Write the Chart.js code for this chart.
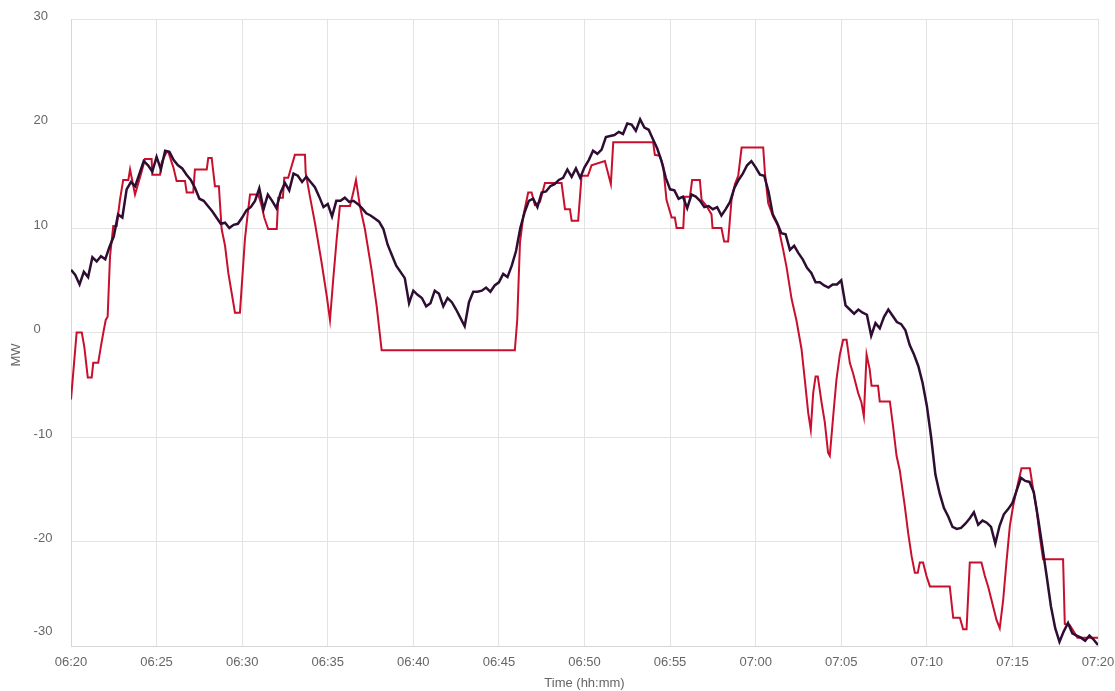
<!DOCTYPE html>
<html>
<head>
<meta charset="utf-8">
<script src="https://cdn.jsdelivr.net/npm/chart.js@4.4.1/dist/chart.umd.min.js"></script>
<style>
  html, body { margin: 0; padding: 0; background: #fff; }
  #wrap { width: 1115px; height: 691px; }
</style>
</head>
<body>
<div id="wrap"><canvas id="chart" width="1115" height="691"></canvas></div>
<script>
// minutes after 06:20
const START_HOUR = 6;
const START_MIN = 20;
const yTicks = [-30, -20, -10, 0, 10, 20, 30];

// red line (setpoint-like, read at its corners)
const redMinutes = [
  0, 0.33, 0.63, 0.78, 0.98, 1.21, 1.30, 1.59, 1.75, 1.89,
  2.03, 2.14, 2.28, 2.47, 2.67, 2.86, 3.05, 3.35, 3.45, 3.74,
  4.13, 4.32, 4.71, 4.75, 5.2, 5.30, 5.59, 5.68, 5.98, 6.17,
  6.66, 6.76, 7.14, 7.24, 7.93, 8.02, 8.22, 8.41, 8.64, 8.80,
  9.0, 9.19, 9.58, 9.87, 10.16, 10.32, 10.46, 10.94, 11.14, 11.29,
  11.52, 12.02, 12.11, 12.38, 12.46, 12.69, 13.08, 13.67, 13.71, 13.96,
  14.25, 14.64, 14.94, 15.13, 15.32, 15.52, 15.71, 16.30, 16.49, 16.65,
  16.88, 17.17, 17.56, 17.86, 18.15, 25.93, 26.07, 26.23, 26.42, 26.71,
  26.91, 27.1, 27.4, 27.69, 28.66, 28.86, 29.15, 29.25, 29.63, 29.83,
  30.2, 30.41, 31.19, 31.54, 31.68, 34.01, 34.11, 34.4, 34.6, 34.79,
  35.09, 35.28, 35.38, 35.77, 35.86, 36.16, 36.29, 36.74, 36.84, 37.13,
  37.42, 37.48, 38.0, 38.16, 38.39, 38.59, 38.79, 38.98, 39.18, 40.44,
  40.54, 40.73, 41.02, 41.31, 41.61, 41.8, 42.1, 42.39, 42.68, 42.87,
  43.07, 43.22, 43.36, 43.5, 43.63, 43.85, 44.04, 44.23, 44.33, 44.53,
  44.72, 44.92, 45.11, 45.31, 45.5, 45.69, 45.99, 46.18, 46.32, 46.48,
  46.66, 46.77, 47.15, 47.25, 47.84, 48.03, 48.23, 48.42, 48.71, 48.91,
  49.11, 49.3, 49.47, 49.59, 49.78, 49.98, 50.18, 51.34, 51.54, 51.93,
  52.12, 52.32, 52.51, 53.19, 53.39, 53.58, 53.87, 54.07, 54.26, 54.46,
  54.65, 54.85, 55.04, 55.33, 55.53, 56.02, 56.21, 56.41, 56.6, 56.79,
  57.96, 58.06, 58.35, 58.8, 60
];
const redMW = [
  -6.4, 0, 0, -1.4, -4.3, -4.3, -2.9, -2.9, -1.3, 0,
  1.2, 1.5, 7.3, 10.2, 10.2, 12.7, 14.6, 14.6, 15.6, 13.2,
  15.4, 16.6, 16.6, 15.1, 15.1, 16.3, 17.3, 17.3, 15.8, 14.5,
  14.5, 13.4, 13.4, 15.6, 15.6, 16.7, 16.7, 14.0, 14.0, 9.9,
  8.3, 5.7, 1.9, 1.9, 8.9, 11.3, 13.2, 13.2, 12.1, 11.0,
  9.9, 9.9, 12.9, 12.9, 14.8, 14.8, 17.0, 17.0, 15.3, 13.0,
  10.5, 6.7, 3.5, 1.2, 5.1, 8.9, 12.1, 12.1, 13.4, 14.6,
  12.1, 9.9, 6.0, 2.5, -1.7, -1.7, 1.2, 8.6, 11.1, 13.4,
  13.4, 12.2, 12.5, 14.3, 14.3, 11.8, 11.8, 10.7, 10.7, 15.0,
  15.0, 16.0, 16.4, 14.2, 18.2, 18.2, 17.0, 16.9, 15.9, 12.7,
  11.0, 11.0, 10.0, 10.0, 13.0, 13.0, 14.6, 14.6, 12.7, 12.1,
  11.3, 10.0, 10.0, 8.7, 8.7, 12.7, 14.2, 15.0, 17.7, 17.7,
  15.3, 12.4, 11.1, 10.2, 7.9, 6.3, 3.2, 1.1, -1.6, -4.5,
  -7.7, -9.3, -5.8, -4.2, -4.2, -6.7, -8.6, -11.5, -11.8, -8.0,
  -4.5, -2.1, -0.7, -0.7, -2.9, -3.9, -5.8, -6.7, -8.0, -2.1,
  -3.5, -5.1, -5.1, -6.6, -6.6, -9.0, -11.8, -13.2, -16.6, -19.2,
  -21.4, -23.0, -23.0, -22.0, -22.0, -23.3, -24.3, -24.3, -27.3, -27.3,
  -28.4, -28.4, -22.0, -22.0, -23.3, -24.3, -26.2, -27.5, -28.3, -25.6,
  -22.0, -18.5, -16.6, -14.4, -13.0, -13.0, -15.0, -16.9, -19.5, -21.7,
  -21.7, -27.9, -28.0, -29.2, -29.2
];

// dark line (measured), one value every 15 s from 06:20 to 07:20
const darkStepMin = 0.25;
const darkMW = [
  6.0, 5.5, 4.6, 5.8, 5.3, 7.2, 6.8, 7.3, 7.0, 8.2, 9.2, 11.3, 11.0, 13.7, 14.4, 14.0, 15.2, 16.4, 16.0, 15.4,
  16.8, 15.6, 17.4, 17.3, 16.5, 16.0, 15.7, 15.1, 14.6, 13.8, 12.8, 12.6, 12.1, 11.6, 11.0, 10.4, 10.5, 10.0, 10.3, 10.4,
  11.0, 11.7, 12.0, 12.6, 13.8, 11.8, 13.2, 12.6, 11.9, 13.4, 14.3, 13.6, 15.2, 15.0, 14.4, 14.9, 14.4, 13.9, 13.0, 12.0,
  12.3, 11.1, 12.6, 12.6, 12.9, 12.5, 12.6, 12.3, 11.9, 11.4, 11.2, 10.9, 10.6, 9.9, 8.4, 7.4, 6.4, 5.8, 5.2, 2.8,
  4.0, 3.6, 3.3, 2.5, 2.8, 4.0, 3.7, 2.5, 3.3, 2.9, 2.2, 1.4, 0.6, 2.9, 3.9, 3.9, 4.0, 4.3, 3.9, 4.5,
  4.8, 5.6, 5.3, 6.4, 7.8, 10.0, 11.5, 12.6, 12.8, 12.0, 13.4, 13.5, 14.0, 14.2, 14.6, 14.8, 15.6, 14.9, 15.7, 14.8,
  15.8, 16.5, 17.4, 17.1, 17.5, 18.7, 18.8, 18.9, 19.2, 19.0, 20.0, 19.9, 19.3, 20.4, 19.6, 19.4, 18.5, 17.6, 16.4, 14.8,
  13.7, 13.6, 12.8, 13.0, 11.9, 13.2, 13.0, 12.6, 12.0, 12.1, 11.8, 12.0, 11.2, 11.8, 12.5, 13.8, 14.6, 15.2, 16.0, 16.4,
  15.8, 15.1, 15.0, 13.5, 11.3, 10.5, 9.5, 9.4, 7.9, 8.3, 7.6, 7.0, 6.2, 5.7, 4.8, 4.8, 4.5, 4.3, 4.6, 4.6,
  5.0, 2.6, 2.2, 1.8, 2.2, 1.9, 1.7, -0.3, 0.9, 0.4, 1.5, 2.2, 1.6, 1.0, 0.8, 0.2, -1.2, -2.1, -3.2, -4.8,
  -7.0, -10.0, -13.6, -15.4, -16.8, -17.6, -18.6, -18.8, -18.7, -18.3, -17.8, -17.2, -18.4, -18.0, -18.2, -18.6, -20.2, -18.5, -17.4, -16.9,
  -16.3, -15.1, -13.9, -14.2, -14.3, -15.3, -17.8, -20.5, -23.3, -26.2, -28.3, -29.6, -28.6, -27.8, -28.8, -29.0, -29.2, -29.5, -29.0, -29.4,
  -29.9
];

function fmtTime(m) {
  const total = START_HOUR * 60 + START_MIN + Math.round(m);
  const h = Math.floor(total / 60);
  const mm = total % 60;
  return String(h).padStart(2, '0') + ':' + String(mm).padStart(2, '0');
}

const redData = redMinutes.map((m, i) => ({ x: m, y: redMW[i] }));
const darkData = darkMW.map((v, i) => ({ x: i * darkStepMin, y: v }));

// the lowest y label sits a little above the bottom axis line in the original
const bottomLabelLift = 1.1;

Chart.defaults.font.family = '"Liberation Sans", Arial, sans-serif';
Chart.defaults.font.size = 13;
Chart.defaults.color = '#666';

const ctx = document.getElementById('chart').getContext('2d');
new Chart(ctx, {
  type: 'line',
  data: {
    datasets: [
      {
        label: 'Measured',
        data: darkData,
        borderColor: '#2e0d33',
        borderWidth: 2.5,
        pointRadius: 0,
        tension: 0,
        order: 0
      },
      {
        label: 'Setpoint',
        data: redData,
        borderColor: '#c8102e',
        borderWidth: 2,
        pointRadius: 0,
        tension: 0,
        order: 1
      }
    ]
  },
  options: {
    responsive: false,
    animation: false,
    layout: { padding: { top: 19, right: 17, left: 0, bottom: 0 } },
    plugins: {
      legend: { display: false },
      tooltip: { enabled: false },
      title: {
        display: true,
        position: 'left',
        text: 'MW',
        font: { size: 13, weight: 'normal' },
        color: '#666',
        padding: { top: 9, bottom: 9 }
      }
    },
    scales: {
      x: {
        type: 'linear',
        min: 0,
        max: 60,
        grid: { color: '#e3e3e3', drawTicks: false },
        border: { color: '#d6d6d6' },
        afterFit: (scale) => {
          scale.height = 45;
          scale.paddingLeft = 0;
          scale.paddingRight = 0;
        },
        ticks: {
          stepSize: 5,
          padding: 9,
          maxRotation: 0,
          callback: (v) => fmtTime(v)
        },
        title: { display: true, text: 'Time (hh:mm)', padding: { top: 0, bottom: 0 } }
      },
      y: {
        min: yTicks[0],
        max: yTicks[yTicks.length - 1],
        grid: {
          drawTicks: false,
          color: (c) => (c.tick && yTicks.includes(c.tick.value)) ? '#e3e3e3' : 'rgba(0,0,0,0)'
        },
        border: { color: '#d6d6d6' },
        afterFit: (scale) => {
          scale.width = 37.4;
          scale.paddingTop = 0;
          scale.paddingBottom = 0;
        },
        afterBuildTicks: (scale) => {
          scale.ticks = yTicks.map(v => ({ value: v === yTicks[0] ? v + bottomLabelLift : v }));
        },
        ticks: {
          crossAlign: 'far',
          labelOffset: -3,
          callback: (v) => String(Math.round(v / 10) * 10)
        }
      }
    }
  }
});
</script>
</body>
</html>
